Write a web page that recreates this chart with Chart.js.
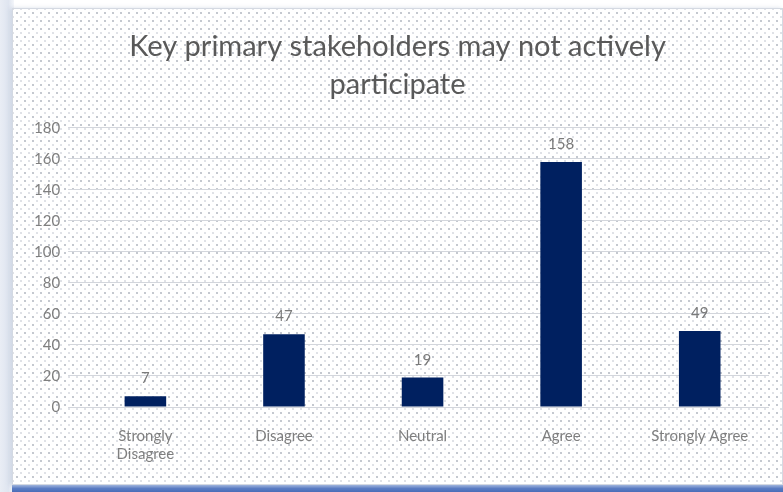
<!DOCTYPE html>
<html>
<head>
<meta charset="utf-8">
<script src="https://cdn.jsdelivr.net/npm/chart.js@4/dist/chart.umd.min.js"></script>
<style>
  html, body { margin: 0; padding: 0; background: #fff; }
  body { width: 783px; height: 492px; position: relative; overflow: hidden; }
  #edge { position: absolute; left: 0; top: 0; width: 14px; height: 492px;
          background: linear-gradient(to right, #e9edf5, #dfe5f0 60%, #f4f6fa); }
  #frame { position: absolute; left: 12px; top: 8px; width: 771px; height: 477px;
           border: 1px solid #d4d9e2; box-sizing: border-box;
           box-shadow: -2px 0 4px rgba(150,165,195,0.35);
           background-color: #fff;
           background-image:
             radial-gradient(circle, #c4c8cf 0.7px, transparent 1.3px),
             radial-gradient(circle, #d8dbe1 0.6px, transparent 1.2px);
           background-size: 8px 8px, 8px 8px;
           background-position: 0 0, 4px 4px; }
  #band { position: absolute; left: 12px; top: 485px; width: 771px; height: 7px;
          background: linear-gradient(to bottom, #9fb4dc, #5a7cc3 50%, #4a6db8); }
  #wrap { position: absolute; left: 0; top: 0; width: 783px; height: 492px; }
</style>
</head>
<body>
<div id="edge"></div>
<div id="frame"></div>
<div id="band"></div>
<div id="wrap"><canvas id="barChart"></canvas></div>
<script>
var categorias = [['Strongly', 'Disagree'], 'Disagree', 'Neutral', 'Agree', 'Strongly Agree'];
var respuestas = [7, 47, 19, 158, 49];
var titulo = ['Key primary stakeholders may not actively', 'participate'];

// writes each bar's value just above it
const etiquetas = {
    id: 'etiquetas',
    afterDatasetsDraw(chart) {
        const ctx = chart.ctx;
        const meta = chart.getDatasetMeta(0);
        ctx.save();
        ctx.font = '15px Lato';
        ctx.fillStyle = '#7a7a7a';
        ctx.textAlign = 'center';
        ctx.textBaseline = 'bottom';
        meta.data.forEach((bar, i) => {
            ctx.fillText(respuestas[i], bar.x, bar.y - 10);
        });
        ctx.restore();
    }
};

const chartBar = document.getElementById('barChart');

let barChart = new Chart(chartBar, {
    type: 'bar',
    data: {
        labels: categorias,
        datasets: [
            {
                label: 'Respuestas',
                backgroundColor: '#002060',
                borderWidth: 0,
                categoryPercentage: 0.6,
                barPercentage: 0.5,
                data: respuestas,
            }
        ]
    },
    options: {
        responsive: true,
        maintainAspectRatio: false,
        animation: false,
        layout: { padding: { left: 26, right: 14, top: 18, bottom: 17 } },
        plugins: {
            legend: { display: false },
            tooltip: { enabled: false },
            title: {
                display: true,
                text: titulo,
                color: '#595959',
                font: { family: 'Lato', size: 29, weight: 'normal', lineHeight: 1.31 },
                padding: { top: 10, bottom: 24 }
            }
        },
        scales: {
            x: {
                grid: { display: false },
                border: { display: false },
                ticks: {
                    color: '#7f7f7f',
                    font: { family: 'Lato', size: 15 },
                    padding: 12,
                    maxRotation: 0
                }
            },
            y: {
                min: 0,
                max: 180,
                grid: { color: '#d3d6dc', lineWidth: 1 },
                border: { display: false },
                ticks: {
                    stepSize: 20,
                    color: '#7f7f7f',
                    font: { family: 'Lato', size: 15 },
                    padding: 8
                }
            }
        }
    },
    plugins: [etiquetas]
});
</script>
</body>
</html>
